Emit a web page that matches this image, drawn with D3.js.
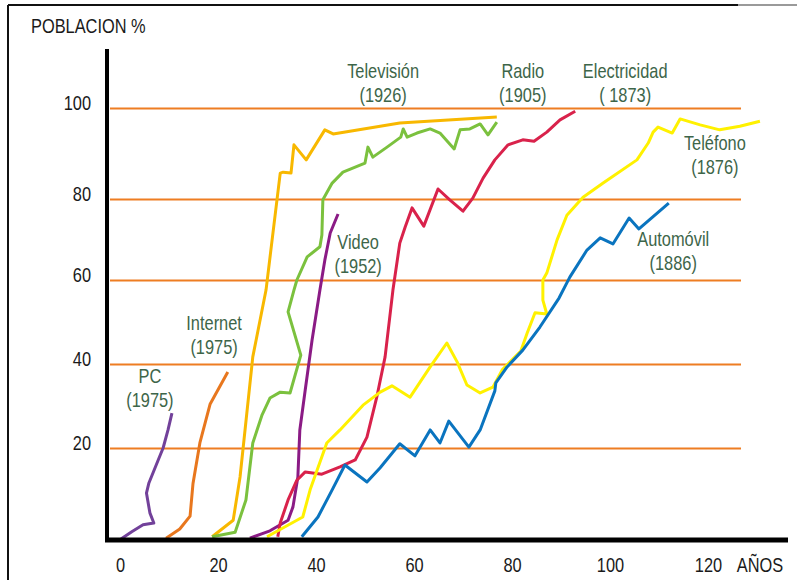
<!DOCTYPE html>
<html lang="es">
<head>
<meta charset="UTF-8">
<title>Difusión de tecnologías</title>
<script src="https://cdn.jsdelivr.net/npm/d3@7"></script>
<style>
  body { margin: 0; background: #fff; }
  svg { display: block; font-family: "Liberation Sans", Arial, sans-serif; }
  .grid line { stroke: #ee7d22; stroke-width: 2; }
  .grid text, .xaxis text { font-size: 20px; fill: #1a1a1a; }
  .serie { fill: none; stroke-width: 3; stroke-linejoin: round; }
  .rotulo { font-size: 20px; fill: #3d6549; text-anchor: middle; }
</style>
</head>
<body>
<script>
// años desde la invención, % de la población
var pc = [[0.2,0.2],[2.4,1.8],[4.7,3.3],[6.9,3.7],[6.1,5.9],[5.4,10.2],[5.9,12.4],[7.8,17.4],[8.8,20],[9.8,24.3],[10.6,28.3]];
var internet = [[9.4,0.4],[12.2,2.4],[14.3,5.2],[14.9,12.3],[16.3,21.2],[18.4,30.5],[22.0,38.1]];
var television = [[18.8,0.7],[23.1,4.3],[24.5,13.7],[27.1,41.7],[29.8,57.6],[32.7,85.7],[33.3,85.9],[34.9,85.7],[35.5,91.9],[38.0,88.6],[41.8,95.2],[43.5,94.3],[53.1,96.0],[57.1,96.7],[76.9,98.0]];
var verde = [[18.8,0.7],[23.5,1.7],[25.7,8.7],[27.1,21.2],[29.0,27.9],[30.6,31.9],[32.7,33.3],[34.7,33.1],[36.9,42.1],[34.3,52.4],[35.5,57.6],[36.1,60],[38.2,65.7],[40.8,68.2],[41.2,71.1],[41.4,79.8],[43.3,83.5],[45.5,85.9],[50.0,87.9],[50.6,91.4],[51.6,89.2],[54.5,91.4],[57.3,93.6],[57.8,95.4],[58.6,93.6],[60.6,94.5],[63.3,95.4],[65.3,94.5],[68.2,91.0],[69.4,95.2],[71.4,95.4],[73.5,96.5],[75.1,94.1],[76.9,96.9]];
var video = [[26.5,0.4],[30.6,2.0],[34.3,4.3],[35.3,7.2],[36.3,13.7],[36.7,24.3],[37.8,33.8],[39.2,45.7],[40.8,57.6],[41.8,64.9],[42.9,71.6],[44.5,76.3]];
var radio = [[32.2,0.7],[32.7,3.7],[34.3,8.7],[36.1,13.0],[37.8,14.8],[41.2,14.3],[44.9,15.9],[48.0,17.4],[50.4,22.6],[52.4,32.1],[54.1,41.7],[55.7,57.6],[57.1,69.1],[58.2,73.1],[59.6,77.8],[62.0,73.3],[64.9,82.2],[67.3,79.8],[70.0,77.0],[72.0,80.2],[74.1,84.6],[76.5,88.6],[79.2,91.9],[82.2,93.0],[84.5,92.7],[87.1,94.7],[89.8,97.4],[92.9,99.3]];
var telefono = [[30.0,0.7],[37.3,5.0],[38.8,10.9],[42.2,21.2],[44.9,24.3],[49.6,30.2],[53.1,33.3],[55.5,34.8],[59.2,32.1],[63.3,39.3],[66.7,45.0],[68.8,40.5],[70.8,35.0],[73.5,33.1],[76.1,34.5],[78.0,38.6],[81.8,43.1],[83.1,47.4],[84.7,52.2],[87.1,51.9],[86.3,55.2],[86.3,60],[87.1,61.7],[89.2,69.9],[91.2,76.0],[94.5,80.4],[98.6,83.5],[105.5,88.6],[107.8,92.3],[108.8,94.7],[109.8,95.8],[112.7,94.5],[114.3,97.6],[118.4,96.3],[122.4,95.2],[126.5,96.0],[130.6,97.1]];
var automovil = [[37.1,0.7],[40.4,5.0],[43.3,10.9],[45.9,16.3],[50.4,12.6],[53.1,15.7],[57.1,21.0],[60.2,18.3],[63.3,24.3],[65.3,21.2],[67.1,26.4],[71.2,20.2],[73.5,24.3],[76.5,33.6],[76.7,35.5],[79.0,39.3],[82.2,43.3],[85.7,48.8],[89.6,55.7],[91.8,60.7],[95.3,67.4],[98.0,70.4],[100.6,68.9],[103.9,75.3],[105.9,72.6],[112.0,79.0]];

var nombres = ["Televisión", "Radio", "Electricidad", "Teléfono", "Automóvil", "Video", "Internet", "PC"];
var fechas = ["(1926)", "(1905)", "( 1873)", "(1876)", "(1886)", "(1952)", "(1975)", "(1975)"];

var yTicks = [20, 40, 60, 80, 100];
var xTicks = [0, 20, 40, 60, 80, 100, 120];

var width = 797, height = 580;
var narrow = 0.82; // letra estrecha: no hay fuente condensada instalada

var svg = d3.select("body").append("svg")
    .attr("width", width)
    .attr("height", height);

var x = d3.scaleLinear().domain([0, 120]).range([120, 708]);
// las líneas guía del original no están igual espaciadas
var y = d3.scaleLinear()
    .domain([0, 20, 40, 60, 80, 100])
    .range([540, 448, 364, 280, 199, 108]);

// marco
svg.append("line").attr("x1", 8).attr("x2", 8).attr("y1", 5).attr("y2", height)
    .attr("stroke", "#111").attr("stroke-width", 2);
svg.append("line").attr("x1", 8).attr("x2", 738).attr("y1", 5).attr("y2", 5)
    .attr("stroke", "#111").attr("stroke-width", 2);
svg.append("line").attr("x1", 738).attr("x2", width).attr("y1", 5).attr("y2", 5)
    .attr("stroke", "#9a9a9a").attr("stroke-width", 2);

// rejilla + etiquetas del eje Y
var grid = svg.append("g")
    .attr("class", "grid")
    .attr("transform", "translate(110,0)")
    .call(d3.axisLeft(y).tickValues(yTicks).tickSize(-631).tickPadding(19 / narrow));
grid.select(".domain").remove();
grid.selectAll("text").attr("dy", "0.05em").attr("transform", "scale(" + narrow + ",1)");

var xAxis = svg.append("g")
    .attr("class", "xaxis")
    .attr("transform", "translate(0,540)")
    .call(d3.axisBottom(x).tickValues(xTicks).tickSize(0));
xAxis.select(".domain").remove();
xAxis.selectAll("text").attr("y", 32).attr("dy", 0).attr("transform", "scale(" + narrow + ",1)");

svg.append("text")
    .attr("transform", "translate(760,572) scale(" + narrow + ",1)")
    .attr("text-anchor", "middle")
    .style("font-size", "20px").attr("fill", "#1a1a1a")
    .text("AÑOS");

svg.append("text")
    .attr("transform", "translate(31,33) scale(" + narrow + ",1)")
    .style("font-size", "20px").attr("fill", "#1a1a1a")
    .text("POBLACION %");

// curvas
var line = d3.line()
    .x(function(d) { return x(d[0]); })
    .y(function(d) { return y(d[1]); });

var series = [
    { datos: pc, color: "#72419a" },
    { datos: internet, color: "#e8771e" },
    { datos: television, color: "#f8b800" },
    { datos: verde, color: "#7bc13e" },
    { datos: video, color: "#8b1b85" },
    { datos: radio, color: "#d9224b" },
    { datos: telefono, color: "#fff100" },
    { datos: automovil, color: "#0a74bf" }
];

svg.selectAll(".serie")
    .data(series)
    .enter().append("path")
    .attr("class", "serie")
    .attr("stroke", function(d) { return d.color; })
    .attr("d", function(d) { return line(d.datos); });

// ejes negros
svg.append("line").attr("x1", 107).attr("x2", 107).attr("y1", 49).attr("y2", 542)
    .attr("stroke", "#000").attr("stroke-width", 4);
svg.append("line").attr("x1", 105).attr("x2", 788).attr("y1", y(0)).attr("y2", y(0))
    .attr("stroke", "#000").attr("stroke-width", 5);

// rótulos (año, % del primer renglón)
var anclas = [[53.7, 106.6], [82.2, 106.6], [103.1, 106.6], [121.4, 90.8], [112.9, 68.4], [48.6, 67.7], [19.2, 48.1], [6.1, 35.5]];

var rot = svg.selectAll(".rotulo")
    .data(nombres)
    .enter().append("text")
    .attr("class", "rotulo")
    .attr("transform", function(d, i) {
        return "translate(" + x(anclas[i][0]) + "," + y(anclas[i][1]) + ") scale(" + narrow + ",1)";
    });
rot.append("tspan").attr("x", 0).attr("y", 0).text(function(d) { return d; });
rot.append("tspan").attr("x", 0).attr("y", 24).text(function(d, i) { return fechas[i]; });
</script>
</body>
</html>
